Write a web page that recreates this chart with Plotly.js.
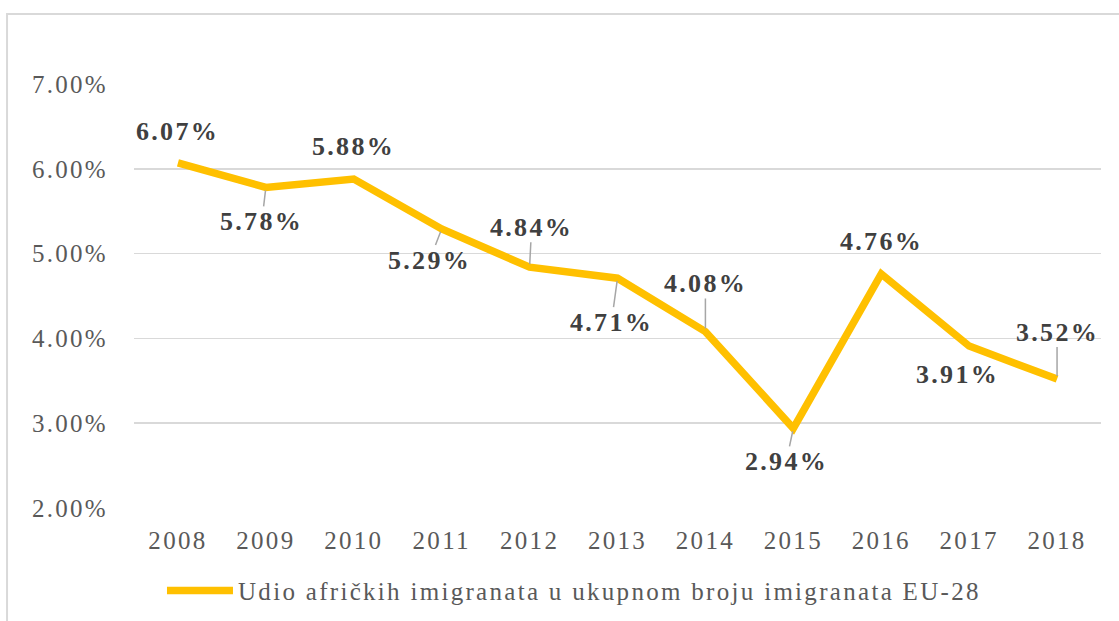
<!DOCTYPE html>
<html>
<head>
<meta charset="utf-8">
<script src="https://cdn.plot.ly/plotly-3.0.1.min.js"></script>
<style>
html,body{margin:0;padding:0;background:#fff;}
#chart{width:1119px;height:621px;}
svg text{letter-spacing:2.3px;}
</style>
</head>
<body>
<div id="chart"></div>
<script>
// Data
const years = ['2008','2009','2010','2011','2012','2013','2014','2015','2016','2017','2018'];
const shares = [6.07, 5.78, 5.88, 5.29, 4.84, 4.71, 4.08, 2.94, 4.76, 3.91, 3.52];
const seriesName = 'Udio afričkih imigranata u ukupnom broju imigranata EU-28';
const yTicks = [2, 3, 4, 5, 6, 7];

// Label placement (pixel offsets from point) and whether a leader line is shown
const labelOffsets = [
  [0, -31, false], [-4, 34, true], [0, -32, false], [-12, 31, true],
  [2, -40, true], [-6, 44, true], [0, -48, true], [-7, 33, true],
  [0, -32, false], [-12, 28, false], [0, -47, true]
];

const annotations = years.map((yr, i) => ({
  x: i, y: shares[i], xref: 'x', yref: 'y',
  text: '<b>' + shares[i].toFixed(2) + '%</b>',
  showarrow: true,
  ax: labelOffsets[i][0], ay: labelOffsets[i][1],
  arrowhead: 0, arrowwidth: 1.5,
  arrowcolor: labelOffsets[i][2] ? '#A6A6A6' : 'rgba(0,0,0,0)',
  standoff: 3, borderpad: 0,
  font: {family: 'Liberation Serif, Times New Roman, serif', size: 26, color: '#404040'}
}));

const trace = {
  type: 'scatter', mode: 'lines',
  x: years, y: shares, name: seriesName,
  line: {color: '#FFC000', width: 7.5},
  hoverinfo: 'x+y'
};

const layout = {
  width: 1119, height: 621,
  margin: {l: 134, r: 18, t: 84, b: 113, autoexpand: false},
  paper_bgcolor: '#ffffff', plot_bgcolor: '#ffffff',
  font: {family: 'Liberation Serif, Times New Roman, serif', size: 25, color: '#595959'},
  showlegend: true,
  legend: {
    orientation: 'h', x: 0.455, xanchor: 'center', y: -0.195, yanchor: 'middle',
    font: {size: 25, color: '#595959'}, itemwidth: 66
  },
  xaxis: {
    type: 'category', range: [-0.5, 10.5],
    showgrid: false, zeroline: false, showline: false,
    ticks: 'outside', ticklen: 10, tickcolor: 'rgba(0,0,0,0)',
    tickfont: {size: 25, color: '#595959'}
  },
  yaxis: {
    range: [2, 7], tickvals: yTicks,
    ticktext: yTicks.map(v => v.toFixed(2) + '%'),
    showgrid: true, gridcolor: '#D9D9D9', gridwidth: 1.5,
    zeroline: false, showline: false,
    ticks: 'outside', ticklen: 20, tickcolor: 'rgba(0,0,0,0)',
    tickfont: {size: 25, color: '#595959'}
  },
  shapes: [{
    type: 'rect', xref: 'paper', yref: 'paper',
    x0: -0.1313, x1: 1.2, y0: -0.35, y1: 1.165,
    line: {color: '#D9D9D9', width: 2}, layer: 'below'
  }],
  annotations: annotations
};

Plotly.newPlot('chart', [trace], layout, {displayModeBar: false, staticPlot: true});
</script>
</body>
</html>
